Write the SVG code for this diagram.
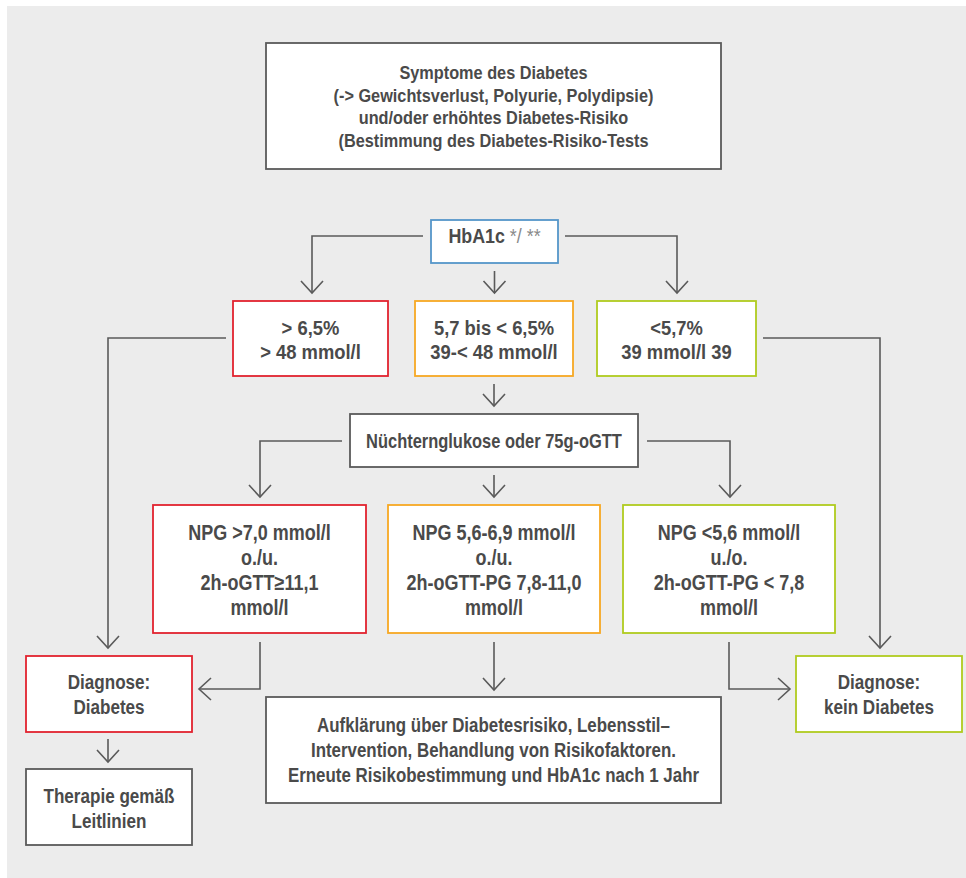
<svg xmlns="http://www.w3.org/2000/svg" width="966" height="878" viewBox="0 0 966 878">
<style>
.bg{fill:#ececec}
.box{fill:#fff;stroke-width:1.8}
.gray{stroke:#5a5a5a}
.red{stroke:#e2232f}
.orange{stroke:#f7a823}
.green{stroke:#b0cb1f}
.blue{stroke:#5596c9}
.t{font-family:"Liberation Sans",Arial,sans-serif;font-weight:bold;fill:#4a4a4a;text-anchor:middle;font-size:21px}
.s186{font-size:18.6px}
.s20{font-size:20px}
.s215{font-size:21.5px}
.conn path{fill:none;stroke:#5a5a5a;stroke-width:1.6}
</style>
<defs>
<marker id="ah" viewBox="-14 -13 16 26" refX="0" refY="0" markerWidth="16" markerHeight="26" markerUnits="userSpaceOnUse" orient="auto">
<path d="M-12,-11 L0,0 L-12,11" fill="none" stroke="#5a5a5a" stroke-width="1.6"/>
</marker>
</defs>
<rect class="bg" x="7" y="6" width="959" height="872"/>

<g id="top">
<rect class="box gray" x="266" y="43" width="455" height="126"/>
<g transform="matrix(0.876 0 0 1 61.19 0)">
<text class="t s186" x="493.5" y="79">Symptome des Diabetes</text>
<text class="t s186" x="493.5" y="102">(-&gt; Gewichtsverlust, Polyurie, Polydipsie)</text>
<text class="t s186" x="493.5" y="124">und/oder erhöhtes Diabetes-Risiko</text>
<text class="t s186" x="493.5" y="147">(Bestimmung des Diabetes-Risiko-Tests</text>
</g>
</g>

<g id="hba1c">
<rect class="box blue" x="431" y="220" width="127" height="43"/>
<g transform="matrix(0.85 0 0 1 74.18 0)">
<text class="t" x="494.5" y="243.5">HbA1c <tspan fill="#8a8a8a" font-weight="normal">*/ **</tspan></text>
</g>
</g>

<g id="r1-red">
<rect class="box red" x="233" y="301" width="155" height="75"/>
<g transform="matrix(0.876 0 0 1 38.5 0)">
<text class="t" x="310.5" y="335.5">&gt; 6,5%</text>
<text class="t" x="310.5" y="359.5">&gt; 48 mmol/l</text>
</g>
</g>
<g id="r1-orange">
<rect class="box orange" x="415" y="301" width="158" height="75"/>
<g transform="matrix(0.876 0 0 1 61.26 0)">
<text class="t" x="494" y="335.5">5,7 bis &lt; 6,5%</text>
<text class="t" x="494" y="359.5">39-&lt; 48 mmol/l</text>
</g>
</g>
<g id="r1-green">
<rect class="box green" x="597" y="301" width="159" height="75"/>
<g transform="matrix(0.876 0 0 1 83.89 0)">
<text class="t" x="676.5" y="335.5">&lt;5,7%</text>
<text class="t" x="676.5" y="359.5">39 mmol/l 39</text>
</g>
</g>

<g id="nuechtern">
<rect class="box gray" x="350" y="414" width="288" height="53"/>
<g transform="matrix(0.823 0 0 1 87.44 0)">
<text class="t s20" x="494" y="448">Nüchternglukose oder 75g-oGTT</text>
</g>
</g>

<g id="r3-red">
<rect class="box red" x="153" y="505" width="213" height="128"/>
<g transform="matrix(0.837 0 0 1 42.3 0)">
<text class="t s215" x="259.5" y="539.7">NPG &gt;7,0 mmol/l</text>
<text class="t s215" x="259.5" y="564.7">o./u.</text>
<text class="t s215" x="259.5" y="589.7">2h-oGTT≥11,1</text>
<text class="t s215" x="259.5" y="614.7">mmol/l</text>
</g>
</g>
<g id="r3-orange">
<rect class="box orange" x="388" y="505" width="212" height="128"/>
<g transform="matrix(0.837 0 0 1 80.52 0)">
<text class="t s215" x="494" y="539.7">NPG 5,6-6,9 mmol/l</text>
<text class="t s215" x="494" y="564.7">o./u.</text>
<text class="t s215" x="494" y="589.7">2h-oGTT-PG 7,8-11,0</text>
<text class="t s215" x="494" y="614.7">mmol/l</text>
</g>
</g>
<g id="r3-green">
<rect class="box green" x="623" y="505" width="212" height="128"/>
<g transform="matrix(0.837 0 0 1 118.83 0)">
<text class="t s215" x="729" y="539.7">NPG &lt;5,6 mmol/l</text>
<text class="t s215" x="729" y="564.7">u./o.</text>
<text class="t s215" x="729" y="589.7">2h-oGTT-PG &lt; 7,8</text>
<text class="t s215" x="729" y="614.7">mmol/l</text>
</g>
</g>

<g id="diag-diabetes">
<rect class="box red" x="26" y="656" width="166" height="76"/>
<g transform="matrix(0.814 0 0 1 20.27 0)">
<text class="t" x="109" y="689.5">Diagnose:</text>
<text class="t" x="109" y="714.5">Diabetes</text>
</g>
</g>
<g id="diag-kein">
<rect class="box green" x="796" y="656" width="166" height="76"/>
<g transform="matrix(0.814 0 0 1 163.49 0)">
<text class="t" x="879" y="689.5">Diagnose:</text>
<text class="t" x="879" y="714.5">kein Diabetes</text>
</g>
</g>

<g id="aufklaerung">
<rect class="box gray" x="266" y="697" width="455" height="106"/>
<g transform="matrix(0.805 0 0 1 96.23 0)">
<text class="t" x="493.5" y="732.5">Aufklärung über Diabetesrisiko, Lebensstil–</text>
<text class="t" x="493.5" y="757.5">Intervention, Behandlung von Risikofaktoren.</text>
<text class="t" x="493.5" y="782.5">Erneute Risikobestimmung und HbA1c nach 1 Jahr</text>
</g>
</g>

<g id="therapie">
<rect class="box gray" x="26" y="769" width="166" height="76"/>
<g transform="matrix(0.814 0 0 1 20.27 0)">
<text class="t" x="109" y="803.5">Therapie gemäß</text>
<text class="t" x="109" y="828.5">Leitlinien</text>
</g>
</g>

<g id="connectors" class="conn">
<path d="M423,236 H312 V293" marker-end="url(#ah)"/>
<path d="M494.5,271 V293" marker-end="url(#ah)"/>
<path d="M565,236 H677 V293" marker-end="url(#ah)"/>
<path d="M226,338 H108 V648" marker-end="url(#ah)"/>
<path d="M763,338 H880 V648" marker-end="url(#ah)"/>
<path d="M494,384 V406" marker-end="url(#ah)"/>
<path d="M342,441 H260 V497" marker-end="url(#ah)"/>
<path d="M494,475 V497" marker-end="url(#ah)"/>
<path d="M647,441 H730 V497" marker-end="url(#ah)"/>
<path d="M260,642 V689 H199" marker-end="url(#ah)"/>
<path d="M494,642 V690" marker-end="url(#ah)"/>
<path d="M729,642 V689 H790" marker-end="url(#ah)"/>
<path d="M108,739 V762" marker-end="url(#ah)"/>
</g>
</svg>
